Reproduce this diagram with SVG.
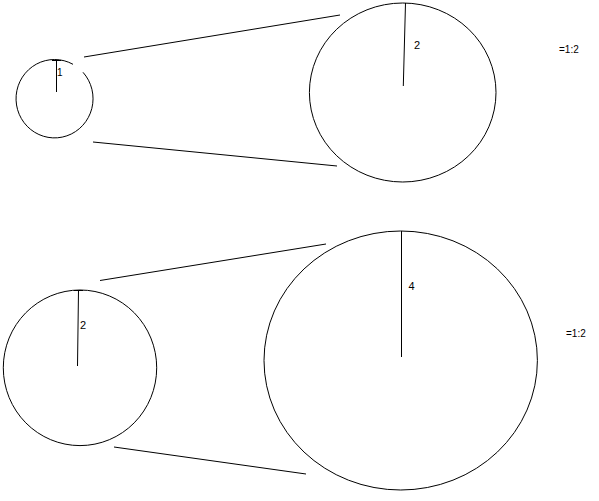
<svg xmlns="http://www.w3.org/2000/svg" width="599" height="501" viewBox="0 0 599 501">
<style>
.s{fill:none;stroke:#000;stroke-width:1}
.t{font-family:"Liberation Sans",Arial,sans-serif;font-size:11px;fill:#000}
</style>
<rect width="599" height="501" fill="#fff"/>
<g id="connectors">
<line class="s" x1="84" y1="57" x2="340" y2="15"/>
<line class="s" x1="93" y1="142" x2="337" y2="166"/>
<line class="s" x1="100" y1="280.5" x2="326" y2="244"/>
<line class="s" x1="114" y1="447" x2="306" y2="474"/>
</g>
<g id="small-top">
<path class="s" d="M83,72.3 A38.5,39.2 0 1 1 73,64.3"/>
<line class="s" x1="56.5" y1="60" x2="56.5" y2="92"/>
<line class="s" x1="52" y1="60.5" x2="61" y2="60.5"/>
<text class="t" x="57" y="76" style="font-size:10px">1</text>
</g>
<g id="big-top">
<ellipse class="s" cx="402.7" cy="92.5" rx="93.3" ry="89.5"/>
<line class="s" x1="405.5" y1="3" x2="403.3" y2="86"/>
<text class="t" x="414" y="48.5">2</text>
</g>
<text class="t" x="559" y="53" style="font-size:10px">=1:2</text>
<g id="small-bottom">
<ellipse class="s" cx="80" cy="367.8" rx="76.7" ry="77.8"/>
<line class="s" x1="78.5" y1="290" x2="77.5" y2="366"/>
<line class="s" x1="74" y1="290.5" x2="83" y2="290.5"/>
<text class="t" x="80" y="328.5">2</text>
</g>
<g id="big-bottom">
<ellipse class="s" cx="400.7" cy="360.5" rx="136.7" ry="129.5"/>
<line class="s" x1="401.5" y1="231" x2="401.5" y2="357"/>
<text class="t" x="408.5" y="289.5">4</text>
</g>
<text class="t" x="566" y="336.5" style="font-size:10px">=1:2</text>
</svg>
